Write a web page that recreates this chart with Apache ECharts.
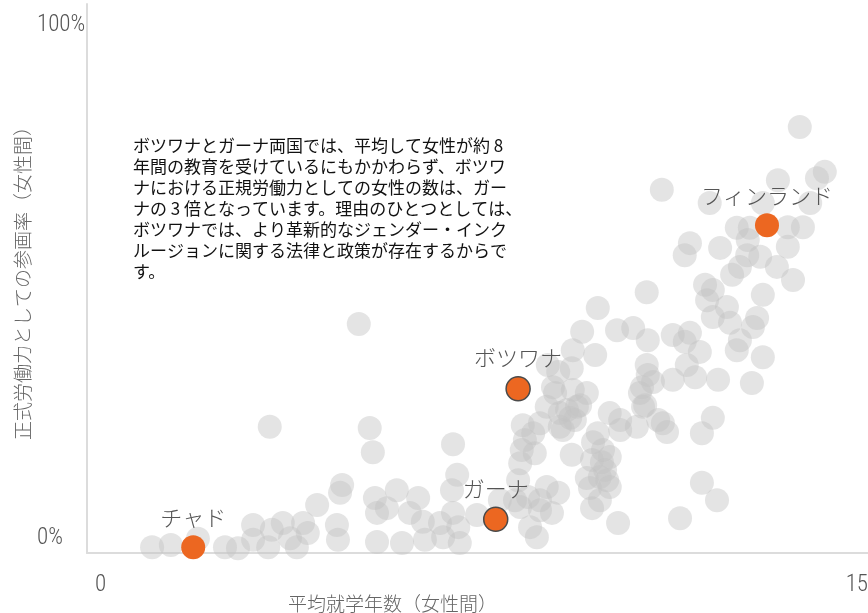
<!DOCTYPE html>
<html>
<head>
<meta charset="utf-8">
<title>就学年数と正規労働参画率</title>
<script src="https://cdn.jsdelivr.net/npm/echarts@6/dist/echarts.min.js"></script>
<style>
  html, body { margin: 0; padding: 0; background: #fff; }
  #chart { width: 868px; height: 613px; }
</style>
</head>
<body>
<div id="chart"></div>
<script>
// 各国：平均就学年数（女性）
const schoolYears = [
  1.25, 1.61, 2.13, 2.65, 2.90, 3.19, 3.19, 3.48, 3.55, 3.76, 3.90, 4.03, 4.15, 4.24, 4.42, 4.80,
  4.82, 4.90, 4.86, 3.51, 5.43, 5.49, 5.53, 5.57, 5.57, 5.76, 5.95, 6.05, 6.20, 6.36, 5.22, 7.03,
  7.11, 7.01, 6.45, 6.49, 6.78, 6.84, 7.03, 7.13, 7.16, 7.49, 8.28, 8.32, 8.35, 8.41, 8.37, 8.57,
  8.60, 8.70, 8.83, 8.99, 9.08, 9.14, 9.28, 9.41, 9.60, 9.31, 7.93, 8.22, 8.47, 8.51, 8.70, 8.83,
  8.93, 9.05, 9.70, 9.72, 9.81, 9.89, 10.04, 9.60, 9.85, 9.99, 9.66, 9.85, 9.70, 10.20, 10.04, 10.24,
  10.24, 10.56, 10.62, 10.68, 10.97, 10.75, 9.81, 9.51, 10.18, 10.49, 10.77, 11.25, 11.48, 11.77, 11.87, 12.02,
  11.91, 12.02, 12.29, 12.35, 12.48, 9.76, 9.33, 9.31, 9.05, 9.33, 9.22, 9.47, 9.37, 9.08, 10.75, 10.77,
  10.87, 11.25, 11.52, 11.68, 12.12, 10.66, 10.72, 11.06, 11.14, 11.81, 12.02, 9.91, 12.98, 12.77, 11.81, 12.10,
  11.39, 13.69, 11.04, 14.17, 14.02, 13.27, 13.89, 11.96, 12.98, 12.48, 12.73, 13.46, 13.75, 12.69, 13.46, 11.58,
  11.48, 12.16, 12.68, 12.93, 12.54, 13.25, 12.39, 13.56, 12.98, 12.87, 11.58, 12.79, 12.54, 8.85, 8.95, 8.70,
  8.32, 9.95, 10.04, 8.64
]
// 各国：正式労働力としての参画率（女性、%）
const laborShare = [
  1.1, 1.5, 2.7, 1.1, 0.9, 5.3, 2.5, 1.1, 4.4, 5.7, 2.8, 1.1, 5.7, 3.8, 9.1, 5.3,
  2.5, 12.9, 11.4, 23.9, 23.7, 19.1, 10.4, 7.6, 2.1, 8.5, 11.9, 1.9, 7.6, 10.4, 43.4, 20.6,
  14.8, 11.9, 5.9, 2.5, 5.7, 3.0, 7.6, 4.9, 1.9, 7.2, 13.8, 17.0, 19.5, 21.4, 24.2, 22.7,
  18.9, 24.6, 27.7, 30.3, 26.5, 23.3, 25.6, 27.7, 30.3, 18.6, 10.0, 10.0, 10.6, 4.9, 8.1, 12.5,
  7.6, 11.4, 17.6, 21.0, 22.7, 17.2, 18.2, 14.2, 14.4, 13.8, 12.3, 10.0, 8.5, 5.7, 26.5, 25.2,
  23.3, 23.9, 30.3, 27.7, 25.2, 49.4, 46.4, 41.9, 42.2, 42.6, 40.3, 41.3, 40.0, 38.1, 50.8, 49.8,
  47.9, 44.7, 46.6, 43.6, 38.4, 37.5, 38.4, 35.0, 34.3, 30.9, 27.1, 28.0, 25.2, 23.9, 35.6, 33.7,
  32.4, 32.8, 35.6, 33.3, 32.8, 31.4, 28.0, 24.6, 22.9, 22.7, 25.6, 19.5, 37.1, 32.2, 13.3, 10.0,
  6.6, 80.7, 68.8, 72.2, 71.0, 70.6, 66.3, 66.3, 66.3, 61.6, 61.6, 61.7, 61.7, 59.3, 58.0, 58.7,
  56.4, 57.8, 56.4, 56.1, 54.2, 54.2, 52.7, 51.7, 48.9, 44.5, 41.7, 42.8, 40.3, 35.6, 31.4, 10.0,
  8.7, 15.7, 12.5, 3.0
]

// 強調する国
const highlightNames = ['チャド', 'ガーナ', 'ボツワナ', 'フィンランド']
const highlightYears = [2.04, 7.85, 8.28, 13.06]
const highlightShare = [1.1, 6.4, 31.1, 62.1]
const outlinedNames = ['ガーナ', 'ボツワナ']

const xTicks = [0, 15]
const yTicks = [0, 100]

const note = [
  'ボツワナとガーナ両国では、平均して女性が約 8',
  '年間の教育を受けているにもかかわらず、ボツワ',
  'ナにおける正規労働力としての女性の数は、ガー',
  'ナの 3 倍となっています。理由のひとつとしては、',
  'ボツワナでは、より革新的なジェンダー・インク',
  'ルージョンに関する法律と政策が存在するからで',
  'す。'
].join('\n')

const cjk = '"Noto Sans CJK JP", "Noto Sans", sans-serif'
const narrow = '"Roboto Condensed", "Liberation Sans Narrow", "DejaVu Sans Condensed", sans-serif'

const chart = echarts.init(document.getElementById('chart'))

const option = {
  animation: false,
  grid: {
    left: 87,
    right: 0,
    top: 4,
    bottom: 60,
    containLabel: false,
    outerBoundsMode: 'none'
  },
  xAxis: {
    type: 'value',
    min: xTicks[0],
    max: xTicks[1],
    interval: 15,
    name: '平均就学年数（女性間）',
    nameLocation: 'middle',
    nameGap: 41,
    nameMoveOverlap: false,
    nameTextStyle: {
      fontFamily: cjk,
      fontSize: 19,
      fontWeight: 300,
      color: '#666',
      padding: [0, 170, 0, 0]
    },
    axisLine: {lineStyle: {color: '#dcdcdc', width: 2}},
    axisTick: {show: false},
    splitLine: {show: false},
    axisLabel: {
      fontFamily: narrow,
      fontSize: 23,
      fontWeight: 300,
      color: '#555',
      margin: 21,
      alignMinLabel: 'left',
      alignMaxLabel: 'right',
      padding: [0, 0, 0, 8]
    }
  },
  yAxis: {
    type: 'value',
    min: 0,
    max: 104,
    name: '正式労働力としての参画率（女性間）',
    nameLocation: 'middle',
    nameRotate: 90,
    nameGap: 55,
    nameMoveOverlap: false,
    nameTextStyle: {
      fontFamily: cjk,
      fontSize: 19,
      fontWeight: 300,
      color: '#666'
    },
    axisLine: {show: true, lineStyle: {color: '#dcdcdc', width: 2}},
    axisTick: {show: false},
    splitLine: {show: false},
    axisLabel: {
      customValues: yTicks,
      fontFamily: narrow,
      fontSize: 23,
      fontWeight: 300,
      color: '#555',
      align: 'left',
      margin: 50,
      formatter: function (v) {
        if (v === 0) return '{low|0%}'
        if (v === 100) return '100%'
        return ''
      },
      rich: {
        low: {
          fontFamily: narrow,
          fontSize: 23,
          fontWeight: 300,
          color: '#555',
          padding: [0, 0, 30, 0]
        }
      }
    }
  },
  graphic: [
    {
      type: 'text',
      left: 133,
      top: 135,
      style: {
        text: note,
        font: '17px ' + cjk,
        fill: '#111',
        lineHeight: 21
      }
    }
  ],
  series: [
    {
      name: 'countries',
      type: 'scatter',
      symbolSize: 24,
      silent: true,
      itemStyle: {color: 'rgba(195, 195, 195, 0.45)', opacity: 1},
      data: schoolYears.map((x, i) => [x, laborShare[i]]),
      z: 2
    },
    {
      name: 'highlight',
      type: 'scatter',
      symbolSize: 24,
      z: 5,
      itemStyle: {color: '#ec6721', opacity: 1},
      label: {
        show: true,
        position: 'top',
        distance: 7,
        fontFamily: cjk,
        fontSize: 22,
        fontWeight: 300,
        color: '#555',
        formatter: p => p.name
      },
      data: highlightNames.map((name, i) => ({
        name: name,
        value: [highlightYears[i], highlightShare[i]],
        itemStyle: outlinedNames.includes(name)
          ? {borderColor: '#4a4a4a', borderWidth: 1.5}
          : {borderWidth: 0}
      }))
    }
  ]
}

chart.setOption(option)
</script>
</body>
</html>
